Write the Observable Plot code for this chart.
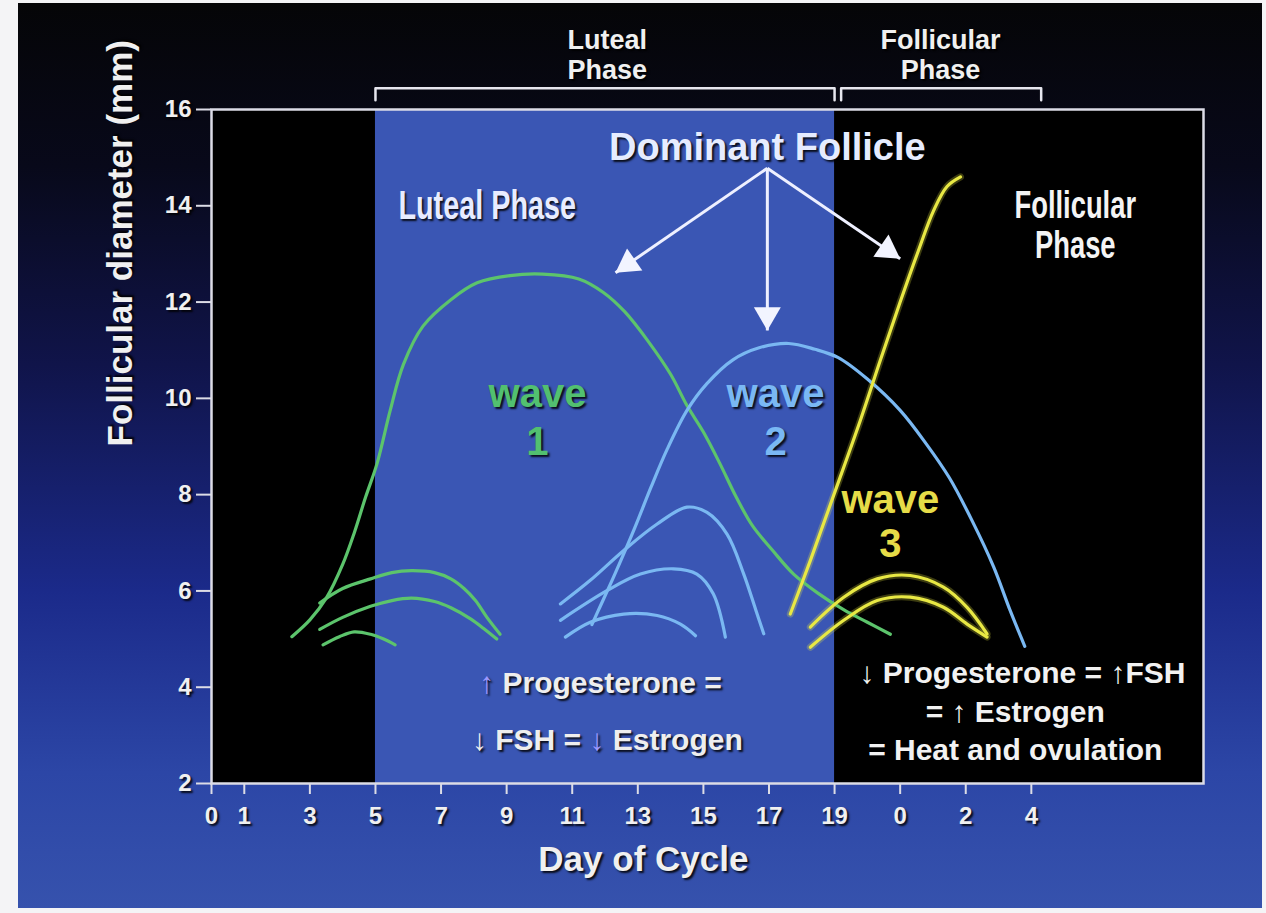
<!DOCTYPE html>
<html><head><meta charset="utf-8">
<script src="https://cdn.jsdelivr.net/npm/d3@7"></script>
<script src="https://cdn.jsdelivr.net/npm/@observablehq/plot@0.6"></script>
<style>
html,body{margin:0;padding:0;background:#f4f4f6;width:1266px;height:913px;overflow:hidden;}
#chart{position:absolute;left:18px;top:3px;}
#chart svg{display:block;}
#chart text{text-shadow:2px 2px 2px rgba(0,0,0,0.85);}
</style></head><body><div id="chart"></div>
<script>
// ---- tick values and labels ----
const xTickDays = [0,1,3,5,7,9,11,13,15,17,19,21,23,25];
const xTickLabels = ["0","1","3","5","7","9","11","13","15","17","19","0","2","4"];
const yTicks = [2,4,6,8,10,12,14,16];

// ---- phases (day of cycle, continuous scale) ----
const lutealPhase = [5, 19];
const follicularPhase = [19.2, 25.3];

// ---- follicle growth curves: [day, diameter mm] ----
const wave1Dominant = [[2.45,5.05],[3.0,5.4],[3.5,5.85],[4.0,6.55],[4.35,7.2],[4.7,7.95],[5.05,8.65],[5.45,9.75],[5.85,10.7],[6.45,11.5],[7.3,12.05],[8.1,12.4],[9.1,12.55],[10.1,12.58],[11.2,12.48],[11.95,12.2],[12.6,11.8],[13.3,11.2],[14.0,10.5],[14.5,9.85],[15.0,9.3],[15.5,8.65],[16.0,7.95],[16.5,7.35],[17.1,6.85],[17.75,6.35],[18.5,5.95],[19.3,5.6],[20.0,5.35],[20.7,5.1]];
const wave1SubA = [[3.3,5.75],[4.0,6.05],[4.85,6.25],[5.5,6.38],[6.1,6.42],[6.8,6.38],[7.3,6.25],[7.7,6.05],[8.05,5.8],[8.4,5.45],[8.8,5.1]];
const wave1SubB = [[3.3,5.2],[4.0,5.45],[4.85,5.68],[5.5,5.8],[6.1,5.85],[6.8,5.78],[7.3,5.65],[7.9,5.42],[8.3,5.22],[8.7,5.0]];
const wave1SubC = [[3.4,4.88],[3.9,5.05],[4.35,5.15],[4.85,5.1],[5.25,5.0],[5.6,4.88]];

const wave2Dominant = [[11.6,5.3],[11.8,5.6],[12.3,6.35],[12.9,7.3],[13.4,8.15],[13.9,8.95],[14.5,9.75],[15.1,10.3],[15.9,10.8],[16.7,11.05],[17.6,11.14],[18.4,11.02],[19.1,10.85],[20.0,10.4],[21.0,9.75],[21.8,9.05],[22.5,8.35],[23.2,7.45],[23.85,6.5],[24.35,5.6],[24.8,4.85]];
const wave2Sub1 = [[10.64,5.73],[11.55,6.22],[12.57,6.84],[13.59,7.39],[14.5,7.74],[15.11,7.63],[15.72,7.18],[16.23,6.35],[16.6,5.6],[16.84,5.11]];
const wave2Sub2 = [[10.64,5.39],[12.07,6.01],[13.08,6.35],[14.09,6.46],[14.8,6.35],[15.3,5.94],[15.67,5.04]];
const wave2Sub3 = [[10.79,5.04],[11.55,5.35],[12.57,5.52],[13.59,5.49],[14.3,5.31],[14.76,5.07]];

const wave3Dominant = [[17.65,5.52],[18.26,6.63],[18.98,8.0],[19.79,9.55],[20.4,10.8],[21.0,12.0],[21.52,13.0],[22.02,13.9],[22.43,14.4],[22.84,14.6]];
const wave3SubA = [[18.26,5.25],[19.28,5.87],[20.3,6.25],[21.31,6.32],[22.32,6.08],[23.04,5.66],[23.65,5.11]];
const wave3SubB = [[18.26,4.83],[19.28,5.39],[20.3,5.8],[21.31,5.87],[22.32,5.66],[23.04,5.31],[23.65,5.04]];

// dominant follicle arrows: origin and targets [day, mm]
const arrowOrigin = [16.95, 14.78];
const arrowTargets = [[12.32,12.61],[16.95,11.41],[21.0,12.9]];

// ---- layout ----
const W = 1244, H = 905, ML = 193, MT = 106, MR = 59, MB = 125;
const xDomain = [0, 30.25], yDomain = [2, 16];
const kx = (W - ML - MR) / (xDomain[1] - xDomain[0]);
const ky = (H - MT - MB) / (yDomain[1] - yDomain[0]);

// ---- build table ----
const curves = [
  ["wave 1","w1d",wave1Dominant],["wave 1","w1a",wave1SubA],["wave 1","w1b",wave1SubB],["wave 1","w1c",wave1SubC],
  ["wave 2","w2d",wave2Dominant],["wave 2","w2a",wave2Sub1],["wave 2","w2b",wave2Sub2],["wave 2","w2c",wave2Sub3],
  ["wave 3","w3d",wave3Dominant],["wave 3","w3a",wave3SubA],["wave 3","w3b",wave3SubB]
];
const rows = curves.flatMap(([wave,id,pts]) => pts.map(([day,mm]) => ({wave,id,day,mm})));
const labelByDay = new Map(xTickDays.map((d,i)=>[d,xTickLabels[i]]));
const arrows = arrowTargets.map(([x2,y2]) => {
  const x1 = arrowOrigin[0], y1 = arrowOrigin[1];
  const px = (x2 - x1) * kx, py = -(y2 - y1) * ky;
  const len = Math.hypot(px, py), ux = px / len, uy = py / len;
  return {x1, y1, x2, y2, ux, uy, rot: Math.atan2(ux, -uy) * 180 / Math.PI};
});
const headR = 10;

const bracketY = 16.44, bracketTick = 16.19;
const brackets = [lutealPhase, follicularPhase].flatMap((p,k) => [
  {k, day:p[0], mm:bracketTick},{k, day:p[0], mm:bracketY},{k, day:p[1], mm:bracketY},{k, day:p[1], mm:bracketTick}
]);

const sans = "'Liberation Sans', Arial, Helvetica, sans-serif";
const one = [0];

const plot = Plot.plot({
  width: W, height: H,
  marginLeft: ML, marginTop: MT, marginRight: MR, marginBottom: MB,
  x: {domain: xDomain, axis: null},
  y: {domain: yDomain, axis: null},
  color: {domain: ["wave 1","wave 2","wave 3"], range: ["#5cc46c","#7ab8f2","#e8e844"]},
  style: {
    background: "linear-gradient(to bottom, #050507 0%, #08091a 18%, #10144a 40%, #1b2a8a 65%, #2c46a6 85%, #3652ad 100%)",
    fontFamily: sans, color: "white", overflow: "visible"
  },
  marks: [
    Plot.frame({fill: "#000000"}),
    Plot.rect(one, {x1: lutealPhase[0], x2: lutealPhase[1], y1: yDomain[0], y2: yDomain[1], fill: "#3a56b4"}),
    // yellow glow
    Plot.line(rows.filter(d => d.wave === "wave 3"), {x: "day", y: "mm", z: "id", stroke: "#f0f040", strokeWidth: 7, strokeOpacity: 0.25, curve: "catmull-rom"}),
    Plot.line(rows, {x: "day", y: "mm", z: "id", stroke: "wave", strokeWidth: 3.2, curve: "catmull-rom"}),
    Plot.frame({stroke: "#dcdce6", strokeWidth: 2.5}),
    Plot.axisY(yTicks, {anchor: "left", tickSize: 15, tickPadding: 5, fontSize: 24, fontWeight: "bold", stroke: "#dcdce6", strokeWidth: 2, fill: "#f0f0f0", label: null}),
    Plot.axisX(xTickDays, {anchor: "bottom", tickSize: 11, tickPadding: 12, fontSize: 24, fontWeight: "bold", stroke: "#dcdce6", strokeWidth: 2, fill: "#f0f0f0", tickFormat: d => labelByDay.get(d), label: null}),
    Plot.text(one, {frameAnchor: "left", dx: -91, rotate: -90, text: () => "Follicular diameter (mm)", fontSize: 35, fontWeight: "bold", fill: "#f0f0f0"}),
    Plot.text(one, {x: 13.17, frameAnchor: "bottom", dy: 87, text: () => "Day of Cycle", fontSize: 35, fontWeight: "bold", fill: "#f0f0f0"}),
    // top phase brackets
    Plot.line(brackets, {x: "day", y: "mm", z: "k", stroke: "#e6e6ee", strokeWidth: 2.5, clip: false}),
    Plot.text(one, {x: 12.07, y: 17.14, text: () => "Luteal\nPhase", lineHeight: 1.1, fontSize: 27, fontWeight: "bold", fill: "#f0f0f0"}),
    Plot.text(one, {x: 22.23, y: 17.14, text: () => "Follicular\nPhase", lineHeight: 1.1, fontSize: 27, fontWeight: "bold", fill: "#f0f0f0"}),
    // in-plot labels
    Plot.text(one, {x: 5.7, y: 14.0, text: () => "Luteal Phase", textAnchor: "start", fontSize: 40, fontWeight: "bold", fill: "#e8ecff"}),
    Plot.text(one, {x: 26.34, y: 13.6, text: () => "Follicular\nPhase", lineHeight: 1.06, fontSize: 38, fontWeight: "bold", fill: "#f4f4f4"}),
    Plot.text(one, {x: 16.95, y: 15.21, text: () => "Dominant Follicle", fontSize: 38, fontWeight: "bold", fill: "#e6ecff", letterSpacing: 1.6}),
    Plot.link(arrows, {x1: "x1", y1: "y1", x2: "x2", y2: "y2", stroke: "#eef0ff", strokeWidth: 3}),
    ...arrows.map(a => Plot.dot([a], {x: "x2", y: "y2", symbol: "triangle", r: headR, fill: "#f2f4ff", stroke: "none",
      rotate: a.rot, dx: -a.ux * headR * 1.55, dy: -a.uy * headR * 1.55})),
    Plot.text(one, {x: 9.94, y: 9.64, text: () => "wave\n1", lineHeight: 1.2, fontSize: 40, fontWeight: "bold", fill: "#52c070"}),
    Plot.text(one, {x: 17.2, y: 9.64, text: () => "wave\n2", lineHeight: 1.2, fontSize: 40, fontWeight: "bold", fill: "#7ab8f4"}),
    Plot.text(one, {x: 20.7, y: 7.46, text: () => "wave\n3", lineHeight: 1.1, fontSize: 40, fontWeight: "bold", fill: "#e6dc48"}),
    Plot.text(one, {x: 11.86, y: 4.08, text: () => "↑ Progesterone =", fontSize: 30, fontWeight: "bold", fill: "#eeeeee"}),
    Plot.text(one, {x: 12.07, y: 2.89, text: () => "↓ FSH = ↓ Estrogen", fontSize: 30, fontWeight: "bold", fill: "#eeeeee"}),
    Plot.text(one, {x: 24.73, y: 4.28, text: () => "↓ Progesterone = ↑FSH", fontSize: 30, fontWeight: "bold", fill: "#f2f2f2"}),
    Plot.text(one, {x: 24.51, y: 3.47, text: () => "= ↑ Estrogen", fontSize: 30, fontWeight: "bold", fill: "#f2f2f2"}),
    Plot.text(one, {x: 24.51, y: 2.69, text: () => "= Heat and ovulation", fontSize: 30, fontWeight: "bold", fill: "#f2f2f2"})
  ]
});

// condense the in-plot phase labels horizontally (no condensed face installed)
const condensed = new Map([["Luteal Phase", 0.72], ["FollicularPhase", 0.72]]);
plot.querySelectorAll("text").forEach(t => {
  const fs = parseFloat(t.getAttribute("font-size") || (t.parentNode && t.parentNode.getAttribute("font-size")) || "0");
  const s = condensed.get(t.textContent);
  if (!s || (fs && fs < 30)) return;
  const tr = t.getAttribute("transform");
  if (tr) t.setAttribute("transform", tr + ` scale(${s},1)`);
  else {
    const x = parseFloat(t.getAttribute("x") || "0");
    t.setAttribute("transform", `translate(${x},0) scale(${s},1) translate(${-x},0)`);
  }
});
// colour the hormone arrows of the luteal note in lavender
const lavender = "#9c98ff";
plot.querySelectorAll("text").forEach(t => {
  const c = t.textContent;
  let parts = null;
  if (c === "↑ Progesterone =") parts = [["↑", lavender], [" Progesterone =", null]];
  else if (c === "↓ FSH = ↓ Estrogen") parts = [["↓ FSH = ", null], ["↓", lavender], [" Estrogen", null]];
  if (!parts) return;
  t.textContent = "";
  for (const [str, col] of parts) {
    const ts = document.createElementNS("http://www.w3.org/2000/svg", "tspan");
    ts.textContent = str;
    if (col) ts.setAttribute("fill", col);
    t.appendChild(ts);
  }
});
document.getElementById("chart").appendChild(plot);
</script>
</body></html>
